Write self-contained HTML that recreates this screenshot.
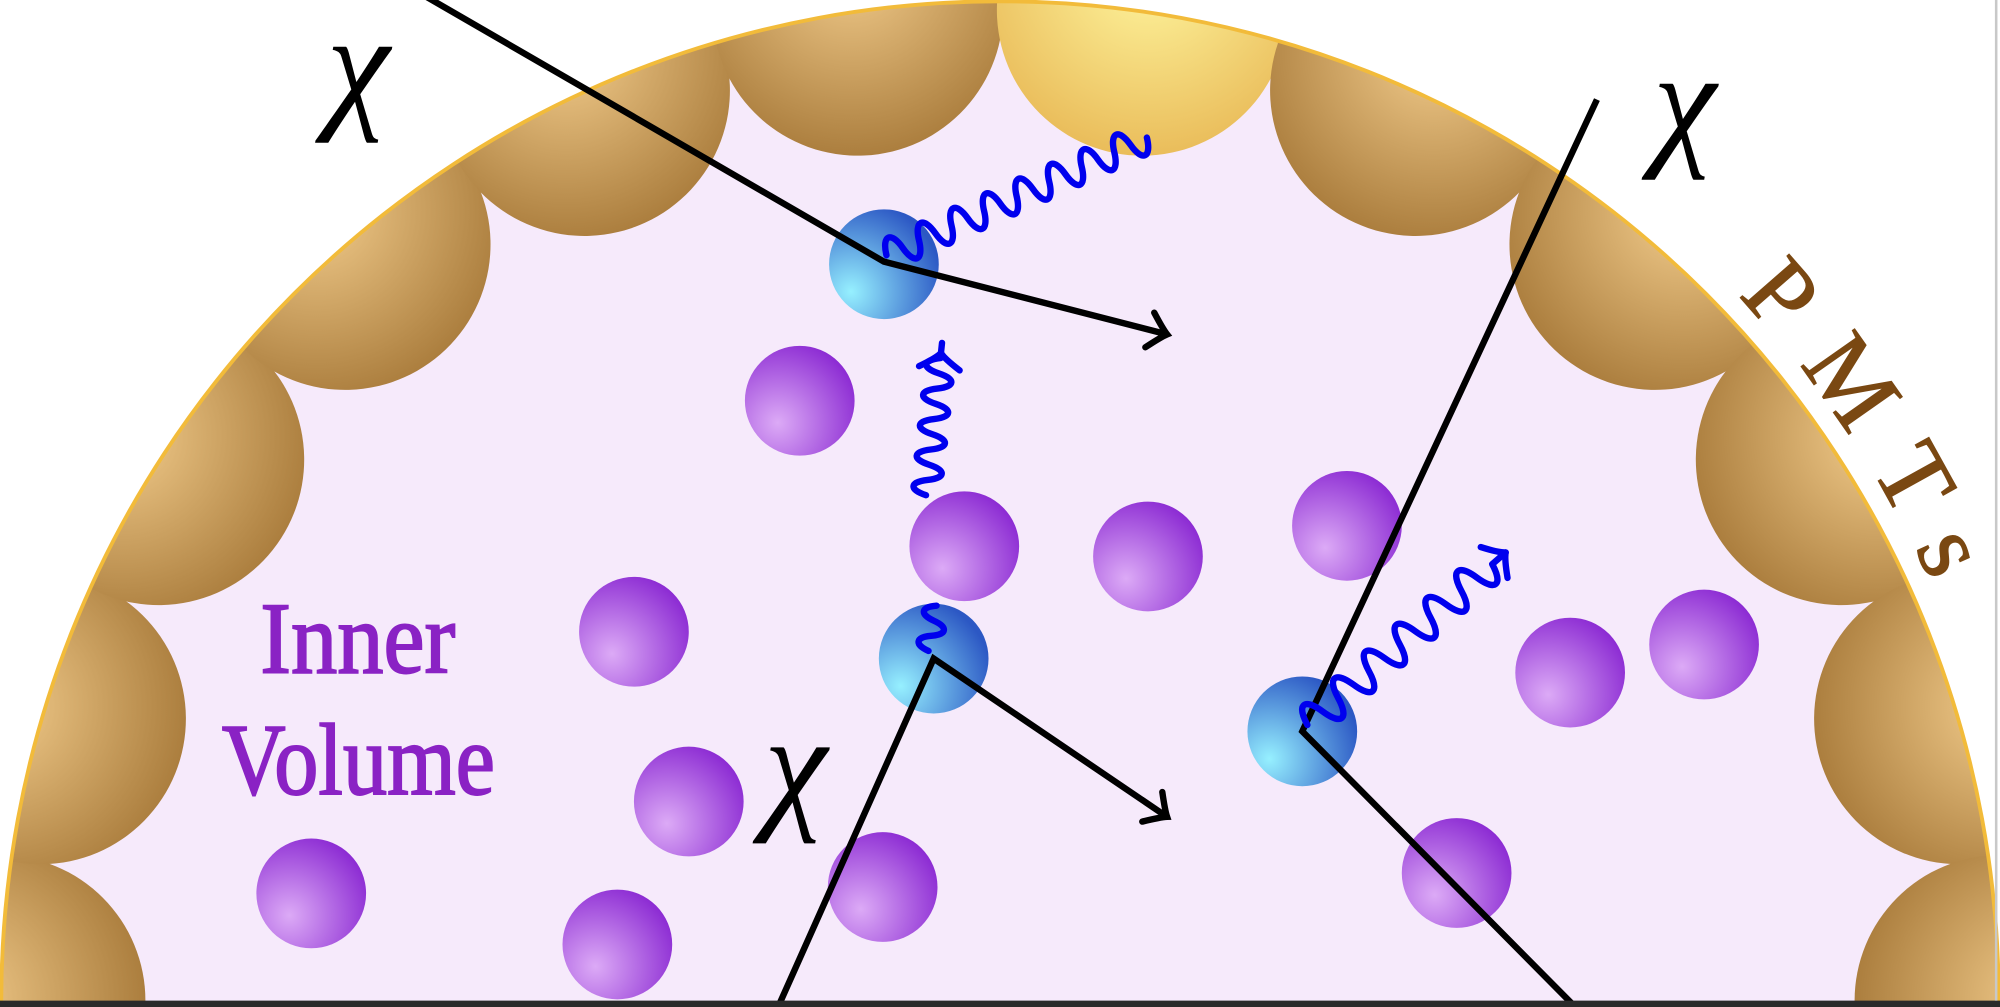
<!DOCTYPE html>
<html><head><meta charset="utf-8"><style>
html,body{margin:0;padding:0;background:#fff;width:2000px;height:1007px;overflow:hidden}
svg{display:block;overflow:hidden}
</style></head><body>
<svg width="2000" height="1007" viewBox="0 0 1568 789" preserveAspectRatio="none" xmlns="http://www.w3.org/2000/svg">
<defs>
<radialGradient id="bowl" cx="0.35" cy="0.5" r="0.7">
<stop offset="0" stop-color="#f2cc8c"/><stop offset="1" stop-color="#a67838"/></radialGradient>
<radialGradient id="bowlY" cx="0.35" cy="0.5" r="0.7">
<stop offset="0" stop-color="#fff7a0"/><stop offset="1" stop-color="#e8b855"/></radialGradient>
<radialGradient id="pur" cx="0.3" cy="0.7" r="0.8">
<stop offset="0" stop-color="#dcaaf6"/><stop offset="1" stop-color="#8a28d2"/></radialGradient>
<radialGradient id="blu" cx="0.2" cy="0.75" r="0.85">
<stop offset="0" stop-color="#96f0ff"/><stop offset="1" stop-color="#2c58c4"/></radialGradient>
<clipPath id="semi"><circle cx="784" cy="784" r="784"/></clipPath>
<path id="arcP" d="M1319 190 A800 800 0 0 1 1572 645"/>
</defs>
<rect x="0" y="0" width="1568" height="789" fill="#fff"/>
<g clip-path="url(#semi)">
<circle cx="784" cy="784" r="784" fill="#f6eafb"/>
<g>
<circle cx="0" cy="784" r="114" fill="url(#bowl)" transform="rotate(0 784 784)"/>
<circle cx="0" cy="784" r="114" fill="url(#bowl)" transform="rotate(16.36 784 784)"/>
<circle cx="0" cy="784" r="114" fill="url(#bowl)" transform="rotate(32.73 784 784)"/>
<circle cx="0" cy="784" r="114" fill="url(#bowl)" transform="rotate(49.09 784 784)"/>
<circle cx="0" cy="784" r="114" fill="url(#bowl)" transform="rotate(65.45 784 784)"/>
<circle cx="0" cy="784" r="114" fill="url(#bowl)" transform="rotate(81.82 784 784)"/>
<circle cx="0" cy="784" r="114" fill="url(#bowlY)" transform="rotate(98.18 784 784)"/>
<circle cx="0" cy="784" r="114" fill="url(#bowl)" transform="rotate(114.55 784 784)"/>
<circle cx="0" cy="784" r="114" fill="url(#bowl)" transform="rotate(130.91 784 784)"/>
<circle cx="0" cy="784" r="114" fill="url(#bowl)" transform="rotate(147.27 784 784)"/>
<circle cx="0" cy="784" r="114" fill="url(#bowl)" transform="rotate(163.64 784 784)"/>
<circle cx="0" cy="784" r="114" fill="url(#bowl)" transform="rotate(180 784 784)"/>
</g>
</g>
<circle cx="784" cy="784" r="783" fill="none" stroke="#f2bb3a" stroke-width="3"/>

<g fill="url(#pur)">
<circle cx="627" cy="314" r="43"/><circle cx="756" cy="428" r="43"/><circle cx="900" cy="436" r="43"/>
<circle cx="1056" cy="412" r="43"/><circle cx="497" cy="495" r="43"/><circle cx="540" cy="628" r="43"/>
<circle cx="244" cy="700" r="43"/><circle cx="484" cy="740" r="43"/><circle cx="692" cy="695" r="43"/>
<circle cx="1231" cy="527" r="43"/><circle cx="1336" cy="505" r="43"/><circle cx="1142" cy="684" r="43"/>
</g>
<g fill="url(#blu)">
<circle cx="693" cy="207" r="43"/><circle cx="732" cy="516" r="43"/><circle cx="1021" cy="573" r="43"/>
</g>

<g fill="none" stroke="#000" stroke-width="5">
<polyline points="330,-5 693,205 915,262"/>
<polyline points="610,789 732,516 915,640"/>
<polyline points="1252,78 1021,573 1235,789"/>
<path d="M-14 -14 Q-4 -3 0 0 Q-4 3 -14 14" stroke-linecap="round" transform="translate(915,262) rotate(14.4)"/>
<path d="M-14 -14 Q-4 -3 0 0 Q-4 3 -14 14" stroke-linecap="round" transform="translate(915,640) rotate(34.1)"/>
</g>

<g fill="none" stroke="#0000ee" stroke-width="5" stroke-linecap="round" stroke-linejoin="round">
<path transform="translate(695,200) rotate(-24.3)" d="M0 0 c3 -16 11 -16 14 0 c3 16 11 16 14 0 c3 -16 11 -16 14 0 c3 16 11 16 14 0 c3 -16 11 -16 14 0 c3 16 11 16 14 0 c3 -16 11 -16 14 0 c3 16 11 16 14 0 c3 -16 11 -16 14 0 c3 16 11 16 14 0 c3 -16 11 -16 14 0 c3 16 11 16 14 0 c3 -16 11 -16 14 0 c3 16 11 16 14 0 c3 -16 11 -16 14 0 c3 16 11 16 14 0"/>
<g transform="translate(726,388) rotate(-84)">
<path d="M0 0 c3 -14 9 -14 12 0 c3 14 9 14 12 0 c3 -14 9 -14 12 0 c3 14 9 14 12 0 c3 -14 9 -14 12 0 c3 14 9 14 12 0 c3 -14 9 -14 12 0 c3 14 9 14 12 0 c3 -14 9 -14 12 0 l12 0"/>
<path d="M100 -16 Q108 -3 112 0 Q108 3 100 16"/>
</g>
<path transform="translate(728,510) rotate(-80)" d="M0 0 c3 -12 9 -12 12 0 c3 12 9 12 12 0 c3 -12 9 -12 12 0"/>
<g transform="translate(1025,568) rotate(-41)">
<path d="M0 0 c4 -18 12 -18 16 0 c4 18 12 18 16 0 c4 -18 12 -18 16 0 c4 18 12 18 16 0 c4 -18 12 -18 16 0 c4 18 12 18 16 0 c4 -18 12 -18 16 0 c4 18 12 18 16 0 c4 -18 12 -18 16 0 c4 18 12 18 16 0 c4 -18 12 -18 16 0 c4 18 12 18 16 0 l14 0"/>
<path d="M194 -16 Q202 -3 206 0 Q202 3 194 16"/>
</g>
</g>

<g font-family="Liberation Serif, serif" font-style="italic" fill="#000" font-size="112">
<text x="256" y="88">χ</text>
<text x="1296" y="117">χ</text>
<text x="599" y="637">χ</text>
</g>
<g font-family="Liberation Serif, serif" fill="#8a22c4" font-size="80" stroke="#8a22c4" stroke-width="1.5">
<text x="204" y="527" textLength="153" lengthAdjust="spacingAndGlyphs">Inner</text>
<text x="174" y="622" textLength="214" lengthAdjust="spacingAndGlyphs">Volume</text>
</g>
<text font-family="Liberation Serif, serif" fill="#7a4812" font-size="78" letter-spacing="29" stroke="#7a4812" stroke-width="1">
<textPath href="#arcP" startOffset="60">PMTs</textPath></text>

<rect x="0" y="784" width="1568" height="5" fill="#2a2a2a"/>
<rect x="1564" y="0" width="2" height="784" fill="#c8c8c8"/>
</svg>
</body></html>
